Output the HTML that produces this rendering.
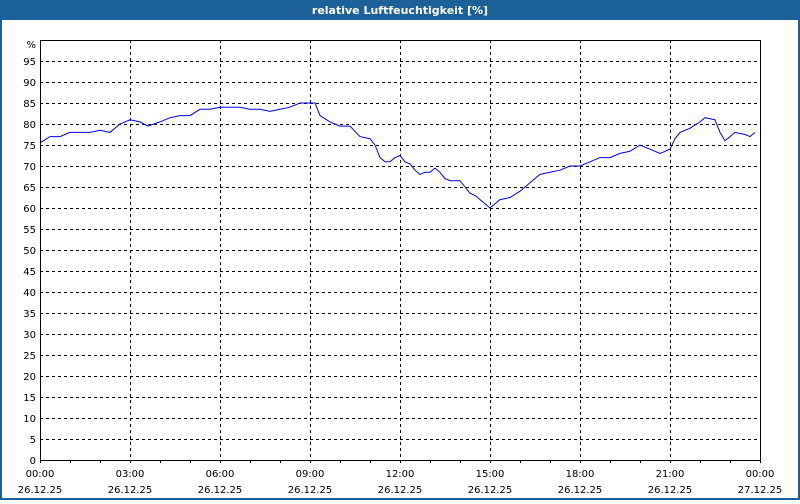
<!DOCTYPE html>
<html><head><meta charset="utf-8"><style>
body{margin:0;width:800px;height:500px;overflow:hidden;background:#fff;font-family:Tahoma,"DejaVu Sans",sans-serif}
</style></head><body>
<svg width="800" height="500" xmlns="http://www.w3.org/2000/svg" font-family="'DejaVu Sans','Liberation Sans',sans-serif" font-size="10">
<rect x="0" y="0" width="800" height="500" fill="#1b6096"/>
<rect x="2" y="20" width="796" height="478" fill="#fff"/>
<text x="400" y="14" fill="#fff" font-weight="bold" text-anchor="middle" font-size="11">relative Luftfeuchtigkeit [%]</text>
<g id="grid" stroke="#000" stroke-dasharray="3,3" stroke-width="1"></g>
<rect x="40.5" y="40.5" width="720" height="420" fill="none" stroke="#000"/>
<g id="ticks" stroke="#000"></g>
<g id="labels" fill="#000"></g>
<polyline id="line" fill="none" stroke="#0000ee" stroke-width="1"/>
</svg>
<script>
var ns="http://www.w3.org/2000/svg";
function el(p,t,a,txt){var e=document.createElementNS(ns,t);for(var k in a)e.setAttribute(k,a[k]);if(txt!=null)e.textContent=txt;document.getElementById(p).appendChild(e);}
for(var v=5;v<100;v+=5){var y=460-v*4.2+0.5;y=Math.round(y-0.5)+0.5;el('grid','line',{x1:40,x2:760,y1:y,y2:y});}
for(var i=1;i<8;i++){var x=40+i*90+0.5;el('grid','line',{x1:x,x2:x,y1:40,y2:460});}
for(var h=0;h<=24;h++){var x=40+h*30+0.5;el('ticks','line',{x1:x,x2:x,y1:460,y2:463});}
for(var v=0;v<100;v+=5){var y=Math.round(460-v*4.2);el('labels','text',{x:36,y:y+4,'text-anchor':'end'},v);}
el('labels','text',{x:36,y:48,'text-anchor':'end'},'%');
var times=['00:00','03:00','06:00','09:00','12:00','15:00','18:00','21:00','00:00'];
for(var i=0;i<9;i++){var x=40+i*90;el('labels','text',{x:x,y:477,'text-anchor':'middle'},times[i]);el('labels','text',{x:x,y:493,'text-anchor':'middle'},i==8?'27.12.25':'26.12.25');}
var d=[[40,75.5],[50,77],[60,77],[70,78],[80,78],[90,78],[100,78.5],[110,78],[120,80],[130,81],[140,80.5],[148,79.5],[160,80.5],[170,81.5],[180,82],[190,82],[200,83.5],[210,83.5],[220,84],[230,84],[240,84],[250,83.5],[260,83.5],[270,83],[280,83.5],[290,84],[300,85],[310,85],[315,85],[320,82],[330,80.5],[340,79.5],[350,79.5],[360,77],[370,76.5],[375,75],[380,72],[385,71],[390,71],[395,72],[400,72.5],[405,71],[410,70.5],[415,69],[420,68],[425,68.5],[430,68.5],[435,69.5],[440,68.5],[445,67],[450,66.5],[460,66.5],[465,65],[470,63.5],[475,63],[480,62],[485,61],[490,60],[495,61],[500,62],[510,62.5],[520,64],[530,66],[540,68],[550,68.5],[560,69],[570,70],[580,70],[590,71],[600,72],[610,72],[620,73],[630,73.5],[640,75],[650,74],[660,73],[670,74],[675,76.5],[680,78],[690,79],[700,80.5],[705,81.5],[715,81],[720,78],[725,76],[730,77],[735,78],[745,77.5],[750,77],[755,78]];
document.getElementById('line').setAttribute('points',d.map(function(p){return p[0]+','+(460-p[1]*4.2).toFixed(1)}).join(' '));
</script>
</body></html>
